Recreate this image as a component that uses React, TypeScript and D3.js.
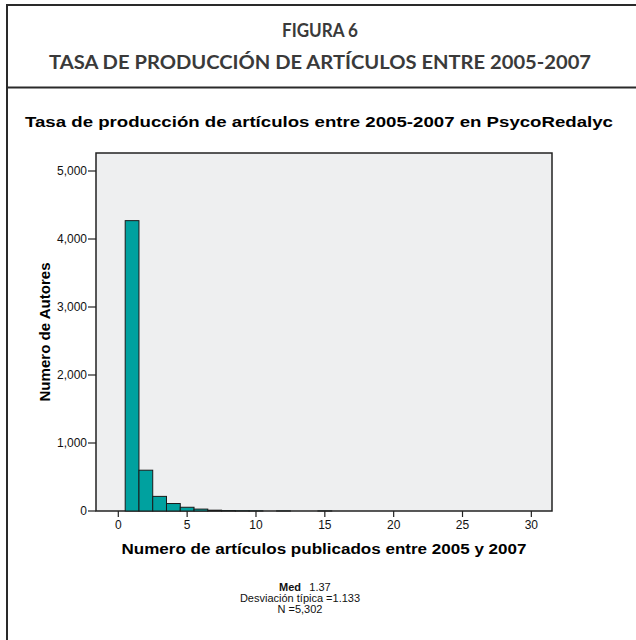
import React from "react";
import * as d3 from "d3";

const articleCounts = [1, 2, 3, 4, 5, 6, 7, 8, 9, 10, 12, 15];
const authorCounts = [4270, 600, 215, 110, 55, 28, 12, 6, 3, 2, 1, 1];
const xTicks = [0, 5, 10, 15, 20, 25, 30];
const yTicks = [0, 1000, 2000, 3000, 4000, 5000];
const headerLines = ["FIGURA 6", "TASA DE PRODUCCIÓN DE ARTÍCULOS ENTRE 2005-2007"];
const chartTitle = "Tasa de producción de artículos entre 2005-2007 en PsycoRedalyc";
const xLabel = "Numero de artículos publicados entre 2005 y 2007";
const yLabel = "Numero de Autores";
const statsLines = ["Desviación típica =1.133", "N =5,302"];

export default function App() {
  const left = 96, right = 552, top = 153, bottom = 511;
  const x = d3.scaleLinear().domain([-1.62, 31.5]).range([left, right]);
  const y = d3.scaleLinear().domain([0, 5000]).range([bottom, 171]);
  const fmt = d3.format(",");
  const sans = "'Liberation Sans', Arial, sans-serif";
  const head = "Lato, 'Open Sans', sans-serif";

  return (
    <svg width={636} height={640} style={{ position: "absolute", left: 0, top: 0, background: "#fff" }}>
      {/* frame */}
      <rect x={7} y={5} width={640} height={650} fill="none" stroke="#2a2a2a" strokeWidth={2} />
      <line x1={7} x2={640} y1={87.5} y2={87.5} stroke="#2a2a2a" strokeWidth={2} />
      <text x={320} y={37} textAnchor="middle" fontFamily={head} fontWeight="bold" fontSize={19} fill="#3a3a3a" textLength={76} lengthAdjust="spacingAndGlyphs">{headerLines[0]}</text>
      <text x={320} y={69} textAnchor="middle" fontFamily={head} fontWeight="bold" fontSize={19} fill="#3a3a3a" textLength={542} lengthAdjust="spacingAndGlyphs">{headerLines[1]}</text>

      <text x={25} y={127} fontFamily={sans} fontWeight="bold" fontSize={15} fill="#000" textLength={588} lengthAdjust="spacingAndGlyphs">{chartTitle}</text>

      {/* plot area */}
      <rect x={left} y={top} width={right - left} height={bottom - top} fill="#eeeff0" stroke="#222" strokeWidth={1.5} />

      {articleCounts.map((k, i) => (
        <rect key={k} x={x(k - 0.5)} y={y(authorCounts[i])} width={x(k + 0.5) - x(k - 0.5)} height={bottom - y(authorCounts[i])}
          fill="#00a19f" stroke="#1a1a1a" strokeWidth={1} />
      ))}

      {/* y axis */}
      {yTicks.map((t) => (
        <g key={t}>
          <line x1={88} x2={left} y1={y(t)} y2={y(t)} stroke="#222" strokeWidth={1.2} />
          <text x={87} y={y(t) + 4} textAnchor="end" fontFamily={sans} fontSize={12} fill="#111">{fmt(t)}</text>
        </g>
      ))}
      {/* x axis */}
      {xTicks.map((t) => (
        <g key={t}>
          <line x1={x(t)} x2={x(t)} y1={bottom} y2={bottom + 6} stroke="#222" strokeWidth={1.2} />
          <text x={x(t)} y={529} textAnchor="middle" fontFamily={sans} fontSize={12} fill="#111">{t}</text>
        </g>
      ))}

      <text x={324} y={554} textAnchor="middle" fontFamily={sans} fontWeight="bold" fontSize={14.5} fill="#000" textLength={405} lengthAdjust="spacingAndGlyphs">{xLabel}</text>
      <text transform="translate(50,332) rotate(-90)" textAnchor="middle" fontFamily={sans} fontWeight="bold" fontSize={14} fill="#000" textLength={139} lengthAdjust="spacingAndGlyphs">{yLabel}</text>

      <text x={290} y={591} textAnchor="middle" fontFamily={sans} fontWeight="bold" fontSize={11} fill="#111">Med</text>
      <text x={320} y={591} textAnchor="middle" fontFamily={sans} fontSize={11} fill="#111">1.37</text>
      {statsLines.map((s, i) => (
        <text key={s} x={300} y={602 + i * 11} textAnchor="middle" fontFamily={sans} fontSize={11} fill="#111">{s}</text>
      ))}
    </svg>
  );
}
